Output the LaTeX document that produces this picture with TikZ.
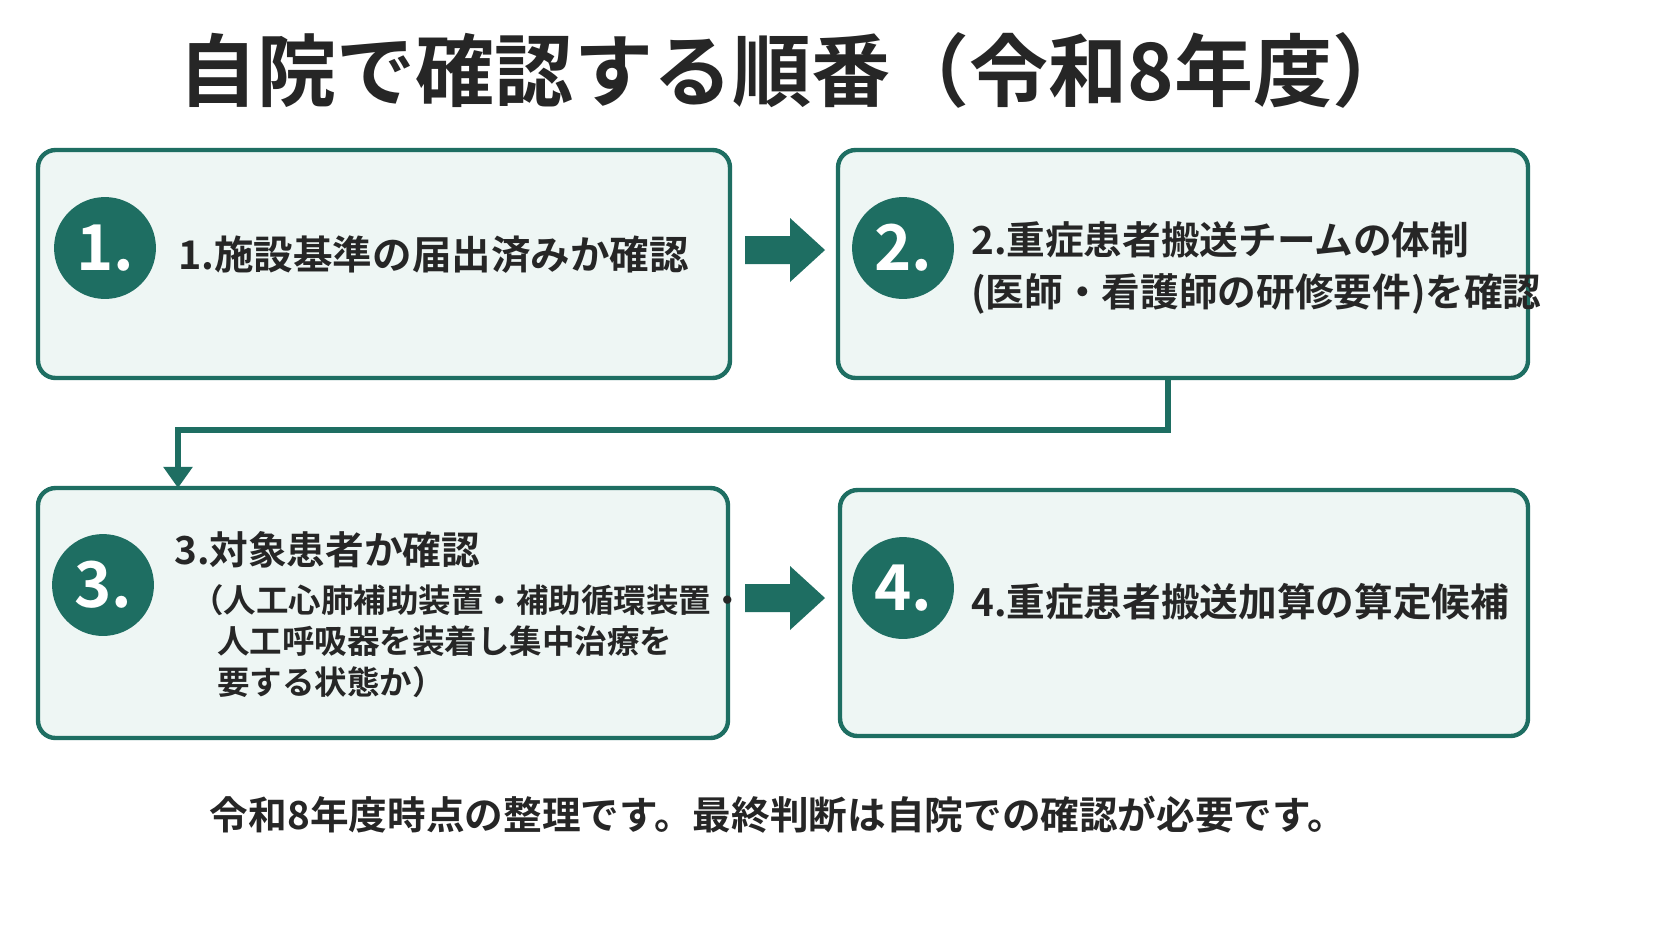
\documentclass[tikz,border=0pt]{standalone}
\usepackage{fontspec}
\setmainfont{Noto Sans CJK JP}[BoldFont={Noto Sans CJK JP Bold}]
\usetikzlibrary{arrows.meta}
\definecolor{stepteal}{HTML}{1E6E62}
\definecolor{pale}{HTML}{EEF6F4}
\tikzset{
  stepbox/.style = { draw=stepteal, line width=2.5pt, fill=pale, rounded corners=10pt },
  num/.style     = { circle, fill=stepteal, minimum size=58pt, text=white, font=\bfseries\fontsize{36}{36}\selectfont },
  label/.style   = { anchor=west, align=left, font=\bfseries\fontsize{22}{30}\selectfont, text=black!85 },
  block/.style   = { fill=stepteal },
  link/.style    = { draw=stepteal, line width=3pt, -{Triangle[length=12pt,width=16pt]} }
}
\newcommand\blockarrow[1]{%
  \fill[block] (#1) ++(0,-14) -- ++(45,0) -- ++(0,-18) -- ++(35,32) -- ++(-35,32)
    -- ++(0,-18) -- ++(-45,0) -- cycle;}
\begin{document}
\begin{tikzpicture}[x=0.02cm,y=-0.02cm]
  \useasboundingbox (0,0) rectangle (1672,941);
  \fill[white] (0,0) rectangle (1672,941);

  \node[font=\bfseries\fontsize{45}{45}\selectfont, text=black!85] (title) at (795,70)
    {自院で確認する順番（令和8年度）};

  % boxes
  \draw[stepbox] (38,150) rectangle (730,378);
  \draw[stepbox] (838,150) rectangle (1528,378);
  \draw[stepbox] (38,488) rectangle (728,738);
  \draw[stepbox] (840,490) rectangle (1528,736);

  \node[num] (n1) at (105,248) {1.};
  \node[num] (n2) at (903,248) {2.};
  \node[num] (n3) at (103,585) {3.};
  \node[num] (n4) at (903,588) {4.};

  \node[label, font=\bfseries\fontsize{22.5}{30}\selectfont] (t1) at (172,255) {1.施設基準の届出済みか確認};
  \node[label] (t2) at (965,268) {2.重症患者搬送チームの体制\\
    (医師・看護師の研修要件)を確認};
  \node[label] (t3) at (168,550) {3.対象患者か確認};
  \node[label, anchor=north west, font=\bfseries\fontsize{18.5}{23.5}\selectfont] (t3b) at (185,578)
    {（人工心肺補助装置・補助循環装置・\\
    \hspace{0.8em}人工呼吸器を装着し集中治療を\\ \hspace{0.8em}要する状態か）};
  \node[label] (t4) at (965,602) {4.重症患者搬送加算の算定候補};

  % arrows between steps
  \coordinate (a1) at (745,250);
  \coordinate (a2) at (745,598);
  \blockarrow{a1}
  \blockarrow{a2}
  \coordinate (c1) at (1168,378);
  \coordinate (c2) at (178,488);
  \draw[link] (c1) |- (178,430) -- (c2);

  \node[font=\bfseries\fontsize{22}{22}\selectfont, text=black!85] (note) at (778,815)
    {令和8年度時点の整理です。最終判断は自院での確認が必要です。};
\end{tikzpicture}
\end{document}
